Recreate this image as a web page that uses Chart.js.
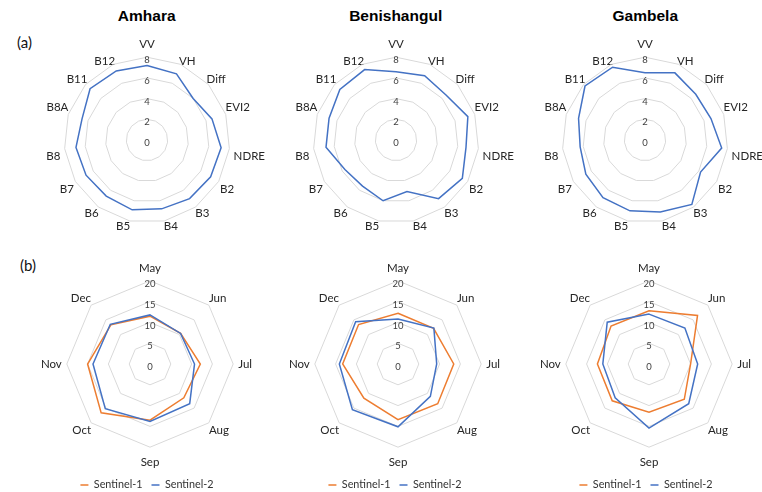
<!DOCTYPE html>
<html>
<head>
<meta charset="utf-8">
<script src="https://cdn.jsdelivr.net/npm/chart.js@4"></script>
<style>
  html, body { margin: 0; padding: 0; background: #fff; }
  #page { position: relative; width: 762px; height: 492px; overflow: hidden; }
  .region { position: absolute; top: 16px; transform: translate(-50%, -50%);
            font: bold 15.5px "Liberation Sans", Arial, sans-serif; color: #000; white-space: nowrap; }
  .panel { position: absolute; transform: translateY(-50%); font: 15px Lato, sans-serif; color: #111; }
  canvas { position: absolute; }
</style>
</head>
<body>
<div id="page">
  <div class="panel" style="left:17px;top:42px">(a)</div>
  <div class="panel" style="left:20px;top:265px">(b)</div>
</div>
<script>
// ---- data ----
const regions = ['Amhara', 'Benishangul', 'Gambela'];

const bandAxes = ['VV', 'VH', 'Diff', 'EVI2', 'NDRE', 'B2', 'B3', 'B4', 'B5', 'B6', 'B7', 'B8', 'B8A', 'B11', 'B12'];
const bandTicks = [0, 2, 4, 6, 8];
const amharaBands      = [7.2, 7.0, 6.0, 6.6, 7.2, 7.1, 7.0, 6.8, 6.9, 6.7, 6.8, 6.9, 6.6, 7.4, 7.3];
const benishangulBands = [6.6, 6.8, 6.5, 7.3, 6.8, 7.4, 7.0, 5.1, 6.0, 5.5, 5.7, 6.8, 6.8, 7.3, 7.45];
const gambelaBands     = [6.5, 7.1, 6.6, 6.7, 7.45, 6.2, 7.7, 7.1, 7.0, 6.9, 6.6, 6.3, 6.75, 7.8, 7.7];

const monthAxes = ['May', 'Jun', 'Jul', 'Aug', 'Sep', 'Oct', 'Nov', 'Dec'];
const monthTicks = [0, 5, 10, 15, 20];
const sensorNames = ['Sentinel-1', 'Sentinel-2'];
const amharaS1      = [11.5, 10.4, 12.1, 11.5, 13.5, 16.6, 15.0, 13.3];
const amharaS2      = [11.8, 10.4, 10.7, 13.5, 13.8, 15.2, 13.7, 13.5];
const benishangulS1 = [12.2, 12.1, 13.4, 13.5, 13.4, 11.6, 13.3, 13.4];
const benishangulS2 = [10.8, 12.2, 9.3, 11.0, 15.1, 15.5, 14.1, 14.4];
const gambelaS1     = [12.8, 16.5, 10.0, 12.0, 11.6, 12.5, 12.4, 12.9];
const gambelaS2     = [12.0, 12.2, 11.7, 13.5, 15.4, 11.5, 11.1, 14.2];

// ---- styling / layout ----
const BLUE = '#4472C4';
const ORANGE = '#ED7D31';
const LABEL_SIZE = 11.5;
const LABEL_LINE = 1.2;
const LABEL_FONT = { family: 'Lato', size: LABEL_SIZE, lineHeight: LABEL_LINE };
const LEGEND_FONT = { family: 'Lato', size: 10.8, lineHeight: LABEL_LINE };
const TICK_SIZE = 9.5;
const TICK_DROP = 0.32;           // tick labels sit slightly below their ring
const TICK_COLOUR = '#404040';
const LABEL_GAP = 5;              // ring-to-label spacing
const TOP_CLEAR = 8;              // extra room above the top spoke (tick labels live there)
const BOTTOM_CLEAR = 10.5;        // extra room below a bottom spoke

const topCentres = [[146.7, 140], [395.7, 140], [645.3, 140]];
const topRadius = 82.5;
const bottomCentres = [[150, 364], [398.3, 364], [648.7, 364]];
const bottomRadius = 83;
const legendTextY = 485;

const page = document.getElementById('page');

regions.forEach((name, i) => {
  const d = document.createElement('div');
  d.className = 'region';
  d.style.left = topCentres[i][0] + 'px';
  d.textContent = name;
  page.appendChild(d);
});

// draws the "0" label at the centre of the radial scale (Chart.js skips the first tick)
const centreTick = {
  id: 'centreTick',
  beforeDatasetsDraw(chart) {
    const s = chart.scales.r;
    const ctx = chart.ctx;
    ctx.save();
    ctx.font = TICK_SIZE + 'px Lato';
    ctx.fillStyle = TICK_COLOUR;
    ctx.textAlign = 'center';
    ctx.textBaseline = 'middle';
    ctx.fillText(String(s.min), s.xCenter, s.yCenter + TICK_SIZE * TICK_DROP);
    ctx.restore();
  }
};

// keep label centres a near-constant distance beyond the ring;
// upperPull draws the upper-half labels a little closer in
function labelPadding(count, upperPull) {
  const half = LABEL_SIZE * LABEL_LINE / 2;
  const tickExtra = TICK_SIZE / 2;
  return ctx => {
    const a = ctx.index * 2 * Math.PI / count;
    const s = Math.abs(Math.sin(a));
    const cs = Math.cos(a);
    const c = Math.abs(cs);
    if (s < 0.01) return LABEL_GAP + (cs > 0 ? TOP_CLEAR : BOTTOM_CLEAR) - half - tickExtra;
    if (c < 0.01) return LABEL_GAP - tickExtra;
    return LABEL_GAP - c * half - tickExtra - (cs > 0.3 ? upperPull : 0);
  };
}

function radarConfig(labels, series, ticks, showLegend, upperPull) {
  return {
    type: 'radar',
    data: {
      labels,
      datasets: series.map(s => ({
        label: s.name,
        data: s.values,
        order: s.order,
        borderColor: s.colour,
        backgroundColor: s.colour,
        pointBorderColor: s.colour,
        pointBorderWidth: 1.5,
        borderWidth: 1.5,
        pointRadius: 0,
        pointHoverRadius: 0,
        fill: false
      }))
    },
    options: {
      responsive: false,
      maintainAspectRatio: false,
      animation: false,
      events: [],
      layout: { padding: 0 },
      plugins: {
        tooltip: { enabled: false },
        legend: showLegend ? {
          position: 'bottom',
          labels: {
            usePointStyle: true,
            pointStyle: 'line',
            pointStyleWidth: 8,
            boxHeight: 8,
            padding: 9,
            color: '#333',
            font: LEGEND_FONT,
            sort: (a, b) => a.datasetIndex - b.datasetIndex
          }
        } : { display: false }
      },
      scales: {
        r: {
          min: ticks[0],
          max: ticks[ticks.length - 1],
          ticks: {
            stepSize: ticks[1] - ticks[0],
            color: TICK_COLOUR,
            font: { family: 'Lato', size: TICK_SIZE, lineHeight: TICK_DROP },
            showLabelBackdrop: false,
            backdropPadding: 0,
            callback: v => ['', String(v)]
          },
          grid: { color: '#d9d9d9', lineWidth: 1 },
          angleLines: { display: false },
          pointLabels: { color: '#262626', font: LABEL_FONT, padding: labelPadding(labels.length, upperPull) }
        }
      }
    },
    plugins: [centreTick]
  };
}

function newCanvas(w, h) {
  const c = document.createElement('canvas');
  c.width = w; c.height = h;
  page.appendChild(c);
  return c;
}

// size a radar so its rings have radius r, then put its centre at (cx, cy)
function placeTop(chart, cx, cy, r) {
  let size = chart.width;
  for (let i = 0; i < 12; i++) {
    const dr = r - chart.scales.r.drawingArea;
    if (Math.abs(dr) < 0.5) break;
    size = Math.round(size + 2 * dr);
    chart.resize(size, size);
  }
  const s = chart.scales.r;
  chart.canvas.style.left = (cx - s.xCenter) + 'px';
  chart.canvas.style.top = (cy - s.yCenter) + 'px';
}

// same, keeping the canvas bottom (and so the legend) at a given page position
function placeBottom(chart, cx, cy, r, bottom) {
  let w = chart.width;
  let top = bottom - chart.height;
  for (let i = 0; i < 16; i++) {
    const s = chart.scales.r;
    const dr = r - s.drawingArea;
    const dy = cy - (top + s.yCenter);
    if (Math.abs(dr) < 0.5 && Math.abs(dy) < 0.5) break;
    w = Math.round(w + 2 * dr);
    top = Math.round(top + 2 * dy);
    chart.resize(w, bottom - top);
  }
  const s = chart.scales.r;
  chart.canvas.style.left = (cx - s.xCenter) + 'px';
  chart.canvas.style.top = top + 'px';
  return top;
}

const bandSeries = [amharaBands, benishangulBands, gambelaBands];
bandSeries.forEach((values, i) => {
  const chart = new Chart(newCanvas(260, 260), radarConfig(bandAxes,
    [{ name: regions[i], values, colour: BLUE, order: 0 }], bandTicks, false, 3));
  placeTop(chart, topCentres[i][0], topCentres[i][1], topRadius);
});

const monthSeries = [[amharaS1, amharaS2], [benishangulS1, benishangulS2], [gambelaS1, gambelaS2]];
monthSeries.forEach(([s1, s2], i) => {
  const chart = new Chart(newCanvas(230, 270), radarConfig(monthAxes, [
    { name: sensorNames[0], values: s1, colour: ORANGE, order: 1 },
    { name: sensorNames[1], values: s2, colour: BLUE, order: 0 }
  ], monthTicks, true, 0));
  let bottom = 505;
  for (let k = 0; k < 3; k++) {
    const top = placeBottom(chart, bottomCentres[i][0], bottomCentres[i][1], bottomRadius, bottom);
    const lg = chart.legend;
    const textY = top + lg.top + lg.options.labels.padding + LEGEND_FONT.size / 2;
    if (Math.abs(textY - legendTextY) < 0.5) break;
    bottom += legendTextY - textY;
  }
});
</script>
</body>
</html>
